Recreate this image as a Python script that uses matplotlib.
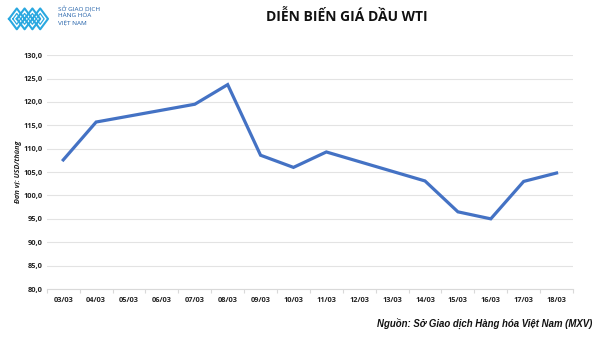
import numpy as np
import matplotlib.pyplot as plt
from matplotlib.ticker import FixedLocator

all_dates = ['03/03', '04/03', '05/03', '06/03', '07/03', '08/03', '09/03', '10/03',
             '11/03', '12/03', '13/03', '14/03', '15/03', '16/03', '17/03', '18/03']
# trading days only (weekends have no price)
dates = ['03/03', '04/03', '07/03', '08/03', '09/03', '10/03',
         '11/03', '14/03', '15/03', '16/03', '17/03', '18/03']
prices = [107.6, 115.7, 119.5, 123.7, 108.6, 106.0,
          109.3, 103.1, 96.5, 95.0, 103.0, 104.8]
yticks = np.arange(80, 131, 5)

fig = plt.figure(figsize=(6, 3.37), dpi=100)
ax = fig.add_axes([0.078, 0.1424, 0.877, 0.694])

# register every date on the category axis, then draw the prices
ax.plot(all_dates, [np.nan] * len(all_dates))
ax.plot(dates, prices, color='#4472C4', lw=2.3, solid_joinstyle='miter')

ax.set_xlim(-0.5, len(all_dates) - 0.5)
ax.set_ylim(80, 130)
ax.set_yticks(yticks)
ax.set_yticklabels([f'{v:.1f}'.replace('.', ',') for v in yticks])
ax.yaxis.grid(True, color='#E3E3E3', lw=0.8)
ax.set_axisbelow(True)
for s in ['top', 'right', 'left']:
    ax.spines[s].set_visible(False)
ax.spines['bottom'].set_color('#D9D9D9')
ax.spines['bottom'].set_linewidth(0.8)
ax.tick_params(axis='y', length=0, pad=3)
ax.tick_params(axis='x', length=0, pad=6)
ax.xaxis.set_minor_locator(FixedLocator(np.arange(-0.5, len(all_dates), 1.0)))
ax.tick_params(axis='x', which='minor', length=3, color='#D9D9D9', width=0.8)
for lab in ax.get_xticklabels() + ax.get_yticklabels():
    lab.set_fontsize(5.3)
    lab.set_fontweight('bold')
    lab.set_color('#222222')
    lab.set_family('Open Sans')

fig.text(0.031, 0.49, 'Đơn vị: USD/thùng', rotation=90, ha='center', va='center',
         fontsize=5.2, fontstyle='italic', fontweight='bold', family='Open Sans', color='#222222')

fig.text(0.578, 0.95, 'DIỄN BIẾN GIÁ DẦU WTI', ha='center', va='center',
         fontsize=10, fontweight='bold', family='Open Sans', color='#111111')

fig.text(0.988, 0.039, 'Nguồn: Sở Giao dịch Hàng hóa Việt Nam (MXV)', ha='right', va='center',
         fontsize=6.9, fontstyle='italic', fontweight='bold', family='Liberation Sans', color='#111111')

# logo: chevron chain + company name
lx = 0.015
for k in range(4):
    x0 = lx + k * 0.013
    fig.add_artist(plt.Line2D([x0, x0 + 0.013, x0 + 0.026, x0 + 0.013, x0],
                              [0.944, 0.975, 0.944, 0.913, 0.944],
                              color='#2AA8E0', lw=1.5, transform=fig.transFigure))
    fig.add_artist(plt.Line2D([x0 + 0.0065, x0 + 0.013, x0 + 0.0195, x0 + 0.013, x0 + 0.0065],
                              [0.944, 0.960, 0.944, 0.928, 0.944],
                              color='#2AA8E0', lw=0.9, transform=fig.transFigure))
for i, t in enumerate(['SỞ GIAO DỊCH', 'HÀNG HÓA', 'VIỆT NAM']):
    fig.text(0.097, 0.972 - i * 0.019, t, ha='left', va='center', fontsize=4.6,
             family='Open Sans', color='#1F5FA8')

fig.savefig('out.png', dpi=100)
